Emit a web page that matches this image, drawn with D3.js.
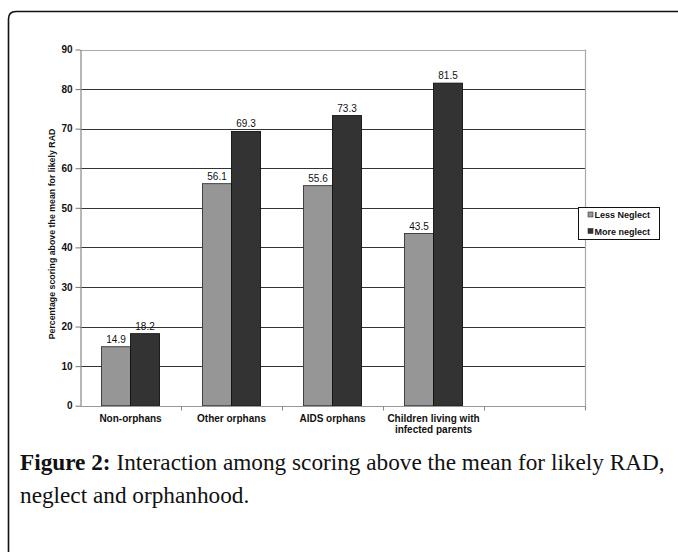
<!DOCTYPE html>
<html>
<head>
<meta charset="utf-8">
<script src="https://cdnjs.cloudflare.com/ajax/libs/d3/7.8.5/d3.min.js"></script>
<style>
  html, body { margin: 0; padding: 0; background: #fff; }
  svg { display: block; }
</style>
</head>
<body>
<script>
const categories = ["Non-orphans", "Other orphans", "AIDS orphans", "Children living with\ninfected parents", ""];
const seriesNames = ["Less Neglect", "More neglect"];
const lessNeglect = [14.9, 56.1, 55.6, 43.5];
const moreNeglect = [18.2, 69.3, 73.3, 81.5];
const yTicks = [0, 10, 20, 30, 40, 50, 60, 70, 80, 90];
const yTitle = "Percentage scoring above the mean for likely RAD";
const captionBold = "Figure 2:";
const captionLine1 = " Interaction among scoring above the mean for likely RAD,";
const captionLine2 = "neglect and orphanhood.";

const SANS = "'Liberation Sans', Arial, Helvetica, sans-serif";
const SERIF = "'Liberation Serif', 'Times New Roman', serif";
const W = 678, H = 552;
const svg = d3.select("body").append("svg").attr("width", W).attr("height", H);

// frame
svg.append("path")
  .attr("d", "M8.5," + (H + 2) + " L8.5,19 Q8.5,11.5 16,11.5 L" + (W + 2) + ",11.5")
  .attr("fill", "none").attr("stroke", "#111").attr("stroke-width", 1.6);

const plot = { left: 80, right: 585, top: 49.5, bottom: 405.7 };
const x = d3.scaleBand().domain(categories).range([plot.left, plot.right]);
const y = d3.scaleLinear().domain([0, 90]).range([plot.bottom, plot.top]);
const barW = 29;

// gridlines
svg.append("g").selectAll("line").data(yTicks.filter(d => d > 0 && d < 90)).join("line")
  .attr("x1", plot.left).attr("x2", plot.right)
  .attr("y1", d => Math.round(y(d)) + 0.5).attr("y2", d => Math.round(y(d)) + 0.5)
  .attr("stroke", "#333").attr("stroke-width", 1);

// plot border (grey)
svg.append("line").attr("x1", plot.right + 0.5).attr("x2", plot.right + 0.5)
  .attr("y1", plot.top).attr("y2", plot.bottom + 4)
  .attr("stroke", "#aaa").attr("stroke-width", 1.2);
svg.append("line").attr("x1", plot.left).attr("x2", plot.right)
  .attr("y1", Math.round(y(90)) + 0.5).attr("y2", Math.round(y(90)) + 0.5)
  .attr("stroke", "#aaa").attr("stroke-width", 1.2);

// bars
const data = categories.slice(0, 4).map((c, i) => ({ c, less: lessNeglect[i], more: moreNeglect[i] }));
const g = svg.append("g");
data.forEach(d => {
  const cx = x(d.c) + x.bandwidth() / 2;
  g.append("rect").attr("x", cx - barW).attr("width", barW)
    .attr("y", y(d.less)).attr("height", y(0) - y(d.less))
    .attr("fill", "#969696").attr("stroke", "#333").attr("stroke-width", 0.9);
  g.append("rect").attr("x", cx).attr("width", barW)
    .attr("y", y(d.more)).attr("height", y(0) - y(d.more))
    .attr("fill", "#333").attr("stroke", "#111").attr("stroke-width", 0.9);
  g.append("text").attr("x", cx - barW / 2).attr("y", y(d.less) - 4)
    .attr("text-anchor", "middle").attr("font-family", SANS)
    .attr("font-size", 10).attr("fill", "#111").text(d.less.toFixed(1));
  g.append("text").attr("x", cx + barW / 2).attr("y", y(d.more) - 4)
    .attr("text-anchor", "middle").attr("font-family", SANS)
    .attr("font-size", 10).attr("fill", "#111").text(d.more.toFixed(1));
});

// y axis
const yAxis = svg.append("g").attr("transform", "translate(" + (plot.left + 0.5) + ",0)")
  .call(d3.axisLeft(y).tickValues(yTicks).tickSize(5).tickPadding(3).tickSizeOuter(0));
yAxis.select(".domain").attr("stroke", "#999").attr("stroke-width", 1.4);
yAxis.selectAll(".tick line").attr("stroke", "#777");
yAxis.selectAll("text").attr("font-family", SANS)
  .attr("font-size", 10).attr("font-weight", "bold").attr("fill", "#111");

// x axis
const xAxis = svg.append("g").attr("transform", "translate(0," + (Math.round(plot.bottom) + 0.5) + ")");
xAxis.append("line").attr("x1", plot.left).attr("x2", plot.right + 1)
  .attr("stroke", "#999").attr("stroke-width", 1.2);
xAxis.selectAll("line.tk").data(categories).join("line").attr("class", "tk")
  .attr("x1", d => x(d) + x.bandwidth() + 0.5).attr("x2", d => x(d) + x.bandwidth() + 0.5)
  .attr("y1", 0).attr("y2", 4).attr("stroke", "#888");
xAxis.selectAll("text").data(categories).join("text")
  .attr("x", d => x(d) + x.bandwidth() / 2)
  .attr("y", 15)
  .attr("text-anchor", "middle")
  .attr("font-family", SANS)
  .attr("font-size", 10).attr("font-weight", "bold").attr("fill", "#111")
  .each(function(d) {
    d.split("\n").forEach((line, i) => {
      d3.select(this).append("tspan").attr("x", x(d) + x.bandwidth() / 2)
        .attr("dy", i === 0 ? 0 : 11.5).text(line);
    });
  });

// y title
svg.append("text")
  .attr("transform", "translate(55,234) rotate(-90)")
  .attr("text-anchor", "middle")
  .attr("font-family", SANS)
  .attr("font-size", 8.8).attr("font-weight", "bold").attr("fill", "#111")
  .text(yTitle);

// legend
const lg = svg.append("g");
lg.append("rect").attr("x", 578.5).attr("y", 207.5).attr("width", 81).attr("height", 32)
  .attr("fill", "#fff").attr("stroke", "#111").attr("stroke-width", 1);
const legendColors = ["#969696", "#333"];
seriesNames.forEach((s, i) => {
  lg.append("rect").attr("x", 588).attr("y", 212 + i * 16.5).attr("width", 5).attr("height", 5)
    .attr("fill", legendColors[i]).attr("stroke", "#333").attr("stroke-width", 0.6);
  lg.append("text").attr("x", 594.5).attr("y", 218 + i * 16.5)
    .attr("font-family", SANS)
    .attr("font-size", 9).attr("font-weight", "bold").attr("fill", "#111").text(s);
});

// caption
const cap = svg.append("text").attr("x", 20).attr("y", 470)
  .attr("font-family", SERIF).attr("font-size", 20).attr("fill", "#111");
cap.append("tspan").attr("font-weight", "bold").text(captionBold);
cap.append("tspan").text(captionLine1);
const cap2 = svg.append("text").attr("x", 20).attr("y", 503)
  .attr("font-family", SERIF).attr("font-size", 20).attr("fill", "#111")
  .text(captionLine2);
// fit caption to the reference line width
const w1 = cap.node().getComputedTextLength();
const fs = 20 * 645 / w1;
cap.attr("font-size", fs);
cap2.attr("font-size", fs);
</script>
</body>
</html>
